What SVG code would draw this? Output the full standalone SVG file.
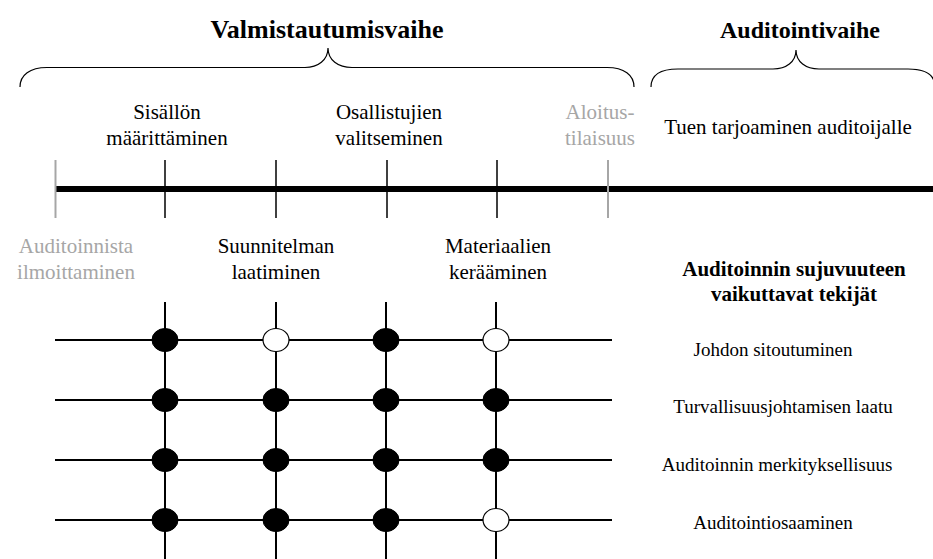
<svg xmlns="http://www.w3.org/2000/svg" width="933" height="559" viewBox="0 0 933 559">
<style>
text{font-family:"Liberation Serif","Times New Roman",serif;font-size:21px;fill:#000;text-anchor:middle}
.t{font-weight:bold;font-size:26px}
.b{font-weight:bold}
.f{font-size:19px}
.g{fill:#a6a6a6}
.brace{fill:none;stroke:#000;stroke-width:1.2}
.tick{stroke:#000;stroke-width:1.5}
.gtick{stroke:#a6a6a6;stroke-width:2}
.grid{stroke:#000;stroke-width:2}
.full{fill:#000;stroke:#000;stroke-width:1}
.open{fill:#fff;stroke:#000;stroke-width:1.2}
</style>
<rect width="933" height="559" fill="#fff"/>
<g id="phase-prep">
<text class="t" x="327" y="38">Valmistautumisvaihe</text>
<path class="brace" d="M20,87 C20,75 30,67.5 47,67.5 L305,67.5 C318,67.5 328,60 328,48 C328,60 338,67.5 352,67.5 L607,67.5 C624,67.5 634,75 634,87"/>
</g>
<g id="phase-audit">
<text class="t" x="800" y="38" style="font-size:24px">Auditointivaihe</text>
<path class="brace" d="M651,87 C651,75 661,69 678,69 L773,69 C786,69 796,62 796,50 C796,62 806,69 819,69 L908,69 C925,69 935,75 935,87"/>
</g>
<g id="connectors">
<line x1="55" y1="189" x2="933" y2="189" stroke="#000" stroke-width="6"/>
<line class="gtick" x1="55.5" y1="160" x2="55.5" y2="218"/>
<line class="gtick" x1="608" y1="160" x2="608" y2="218"/>
<line class="tick" x1="165" y1="160" x2="165" y2="218"/>
<line class="tick" x1="276" y1="160" x2="276" y2="218"/>
<line class="tick" x1="387" y1="160" x2="387" y2="218"/>
<line class="tick" x1="497" y1="160" x2="497" y2="218"/>
<line class="grid" x1="55" y1="340" x2="612" y2="340"/>
<line class="grid" x1="55" y1="400" x2="612" y2="400"/>
<line class="grid" x1="55" y1="460" x2="612" y2="460"/>
<line class="grid" x1="55" y1="520" x2="612" y2="520"/>
<line class="grid" x1="165" y1="302" x2="165" y2="559"/>
<line class="grid" x1="276" y1="302" x2="276" y2="559"/>
<line class="grid" x1="386" y1="302" x2="386" y2="559"/>
<line class="grid" x1="496" y1="302" x2="496" y2="559"/>
</g>
<g id="step-sisalto"><text x="167" y="119">Sisällön</text><text x="167" y="145">määrittäminen</text></g>
<g id="step-osallistujat"><text x="389" y="119">Osallistujien</text><text x="389" y="145">valitseminen</text></g>
<g id="step-aloitus"><text class="g" x="600" y="119">Aloitus-</text><text class="g" x="600" y="145">tilaisuus</text></g>
<g id="step-tuki"><text x="788" y="134">Tuen tarjoaminen auditoijalle</text></g>
<g id="step-ilmoitus"><text class="g" x="76" y="253">Auditoinnista</text><text class="g" x="76" y="279">ilmoittaminen</text></g>
<g id="step-suunnitelma"><text x="276" y="253">Suunnitelman</text><text x="276" y="279">laatiminen</text></g>
<g id="step-materiaalit"><text x="498" y="253">Materiaalien</text><text x="498" y="279">kerääminen</text></g>
<g id="factors-header"><text class="b" x="794" y="276">Auditoinnin sujuvuuteen</text><text class="b" x="794" y="301">vaikuttavat tekijät</text></g>
<g id="factor-1"><text class="f" x="773" y="356">Johdon sitoutuminen</text></g>
<g id="factor-2"><text class="f" x="783" y="413">Turvallisuusjohtamisen laatu</text></g>
<g id="factor-3"><text class="f" x="777" y="471">Auditoinnin merkityksellisuus</text></g>
<g id="factor-4"><text class="f" x="773" y="529">Auditointiosaaminen</text></g>
<g id="dots">
<ellipse class="full" cx="165" cy="340" rx="13" ry="11.5"/>
<ellipse class="open" cx="276" cy="340" rx="13" ry="11.5"/>
<ellipse class="full" cx="386" cy="340" rx="13" ry="11.5"/>
<ellipse class="open" cx="496" cy="340" rx="13" ry="11.5"/>
<ellipse class="full" cx="165" cy="400" rx="13" ry="11.5"/>
<ellipse class="full" cx="276" cy="400" rx="13" ry="11.5"/>
<ellipse class="full" cx="386" cy="400" rx="13" ry="11.5"/>
<ellipse class="full" cx="496" cy="400" rx="13" ry="11.5"/>
<ellipse class="full" cx="165" cy="460" rx="13" ry="11.5"/>
<ellipse class="full" cx="276" cy="460" rx="13" ry="11.5"/>
<ellipse class="full" cx="386" cy="460" rx="13" ry="11.5"/>
<ellipse class="full" cx="496" cy="460" rx="13" ry="11.5"/>
<ellipse class="full" cx="165" cy="520" rx="13" ry="11.5"/>
<ellipse class="full" cx="276" cy="520" rx="13" ry="11.5"/>
<ellipse class="full" cx="386" cy="520" rx="13" ry="11.5"/>
<ellipse class="open" cx="496" cy="520" rx="13" ry="11.5"/>
</g>
</svg>
